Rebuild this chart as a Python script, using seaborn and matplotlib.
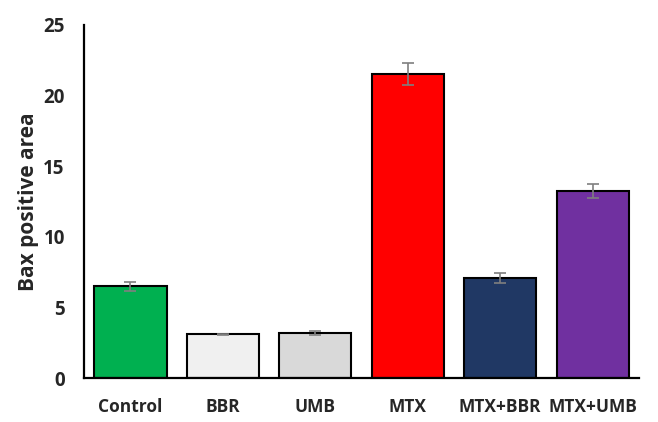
import pandas as pd
import matplotlib
matplotlib.use("Agg")
import matplotlib.pyplot as plt
import seaborn as sb

groups = ["Control", "BBR", "UMB", "MTX", "MTX+BBR", "MTX+UMB"]
bax_area = [6.5, 3.1, 3.2, 21.55, 7.1, 13.25]
bax_err = [0.33, 0.05, 0.13, 0.78, 0.36, 0.47]
bar_colors = ["#00B050", "#F0F0F0", "#D9D9D9", "#FF0000", "#203864", "#7030A0"]

df = pd.DataFrame({"Group": groups, "Bax": bax_area, "Err": bax_err})

sb.set_style("white")
plt.rcParams['font.family'] = ['Open Sans', 'DejaVu Sans']

fig = plt.figure(figsize=(6.58, 4.22), dpi=100)
ax = fig.add_axes([0.128, 0.104, 0.843, 0.837])

sb.barplot(data=df, x="Group", y="Bax", hue="Group", palette=bar_colors,
           saturation=1, legend=False, width=0.78, edgecolor="black",
           linewidth=1.5, errorbar=None, ax=ax)
ax.errorbar(range(len(groups)), df["Bax"], yerr=df["Err"], fmt="none",
            ecolor="#7F7F7F", elinewidth=1.2, capsize=4, capthick=1.2)

ax.set_ylim(0, 25)
ax.set_xlim(-0.5, 5.5)
ax.set_yticks([0, 5, 10, 15, 20, 25])
ax.set_xlabel("")
ax.set_ylabel("Bax positive area", fontsize=15, fontweight="bold", labelpad=3)
for lbl in ax.get_xticklabels():
    lbl.set_fontweight("bold")
    lbl.set_fontsize(12.5)
for lbl in ax.get_yticklabels():
    lbl.set_fontweight("bold")
    lbl.set_fontsize(13.5)
ax.tick_params(axis="x", pad=14, length=0)
ax.tick_params(axis="y", pad=14, length=0)

sb.despine(ax=ax)
ax.spines["left"].set_linewidth(1.6)
ax.spines["bottom"].set_linewidth(1.6)
ax.spines["left"].set_color("black")
ax.spines["bottom"].set_color("black")

fig.savefig("out.png", dpi=100)
